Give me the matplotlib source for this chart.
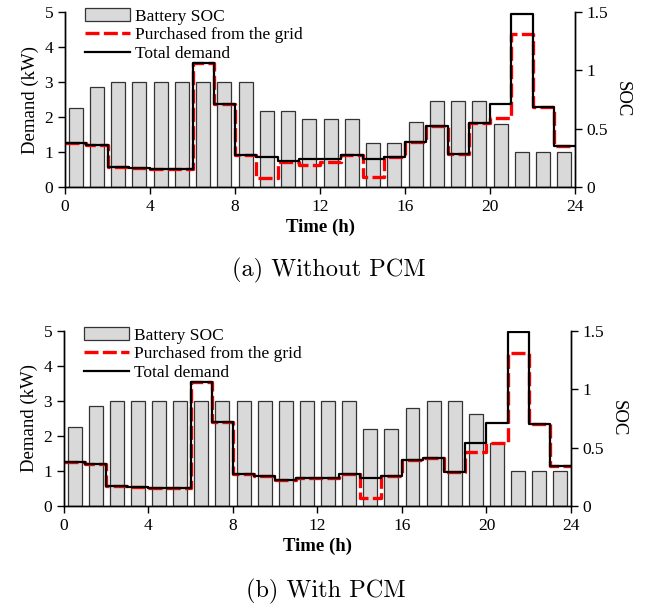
import matplotlib

matplotlib.use("Agg")
import matplotlib.pyplot as plt
import numpy as np

hours = list(range(24))
x_ticks = [0, 4, 8, 12, 16, 20, 24]
soc_ticks = [0, 0.5, 1, 1.5]
soc_tick_labels = ["0", "0.5", "1", "1.5"]

# (a) without PCM
soc_a = [0.68, 0.86, 0.9, 0.9, 0.9, 0.9, 0.9, 0.9, 0.9, 0.65, 0.65, 0.58,
         0.58, 0.58, 0.38, 0.38, 0.56, 0.74, 0.74, 0.74, 0.54, 0.30, 0.30, 0.30]
demand_a = [1.25, 1.21, 0.56, 0.54, 0.52, 0.52, 3.54, 2.38, 0.91, 0.87, 0.73, 0.80,
            0.79, 0.91, 0.79, 0.86, 1.30, 1.74, 0.94, 1.83, 2.38, 4.95, 2.30, 1.16]
grid_a = [1.25, 1.21, 0.56, 0.54, 0.52, 0.52, 3.54, 2.38, 0.91, 0.25, 0.71, 0.63,
          0.72, 0.91, 0.29, 0.86, 1.30, 1.74, 0.94, 1.83, 1.96, 4.38, 2.30, 1.16]

# (b) with PCM
soc_b = [0.68, 0.86, 0.9, 0.9, 0.9, 0.9, 0.9, 0.9, 0.9, 0.9, 0.9, 0.9,
         0.9, 0.9, 0.66, 0.66, 0.84, 0.9, 0.9, 0.79, 0.54, 0.30, 0.30, 0.30]
demand_b = [1.25, 1.21, 0.57, 0.54, 0.52, 0.52, 3.55, 2.39, 0.90, 0.86, 0.74, 0.81,
            0.79, 0.91, 0.79, 0.85, 1.30, 1.36, 0.97, 1.81, 2.38, 4.96, 2.33, 1.15]
grid_b = [1.25, 1.21, 0.57, 0.54, 0.52, 0.52, 3.55, 2.39, 0.90, 0.86, 0.74, 0.81,
          0.79, 0.91, 0.23, 0.85, 1.30, 1.36, 0.97, 1.55, 1.81, 4.36, 2.33, 1.15]

SERIF = "Liberation Serif"
RED = "#ff0000"


def draw_panel(fig, rect, soc, demand, grid, caption, caption_xy):
    ax = fig.add_axes(rect)
    ax_soc = ax.twinx()

    # bars live on the SOC axis, lines on the demand axis drawn on top
    ax.set_zorder(ax_soc.get_zorder() + 1)
    ax.patch.set_visible(False)

    bar_x = np.array(hours) + 0.5
    ax_soc.bar(bar_x, soc, width=0.66, color="#d9d9d9", edgecolor="#333333",
               linewidth=0.9, label="Battery SOC")

    step_x = list(range(25))
    ax.step(step_x, grid + [grid[-1]], where="post", color=RED, linewidth=2.4,
            dashes=(4.2, 1.3), label="Purchased from the grid")
    ax.step(step_x, demand + [demand[-1]], where="post", color="black",
            linewidth=1.6, label="Total demand")

    ax.set_xlim(0, 24)
    ax.set_ylim(0, 5)
    ax_soc.set_ylim(0, 1.5)
    ax.set_xticks(x_ticks)
    ax.set_yticks(range(6))
    ax_soc.set_yticks(soc_ticks)
    ax_soc.set_yticklabels(soc_tick_labels)

    for a in (ax, ax_soc):
        a.spines["top"].set_visible(False)
        for side in ("left", "right", "bottom"):
            a.spines[side].set_linewidth(1.0)
        a.tick_params(direction="out", length=5, width=1.0, labelsize=12.5)
        for lbl in a.get_xticklabels() + a.get_yticklabels():
            lbl.set_fontfamily(SERIF)

    ax.set_xlabel("Time (h)", fontfamily=SERIF, fontsize=13.5, fontweight="bold", labelpad=3)
    ax.set_ylabel("Demand (kW)", fontfamily=SERIF, fontsize=13.5, labelpad=4)
    ax_soc.set_ylabel("SOC", fontfamily=SERIF, fontsize=13.5, rotation=270, labelpad=16)

    handles, labels = ax_soc.get_legend_handles_labels()
    h2, l2 = ax.get_legend_handles_labels()
    ax.legend(handles + h2, labels + l2, loc="upper left", bbox_to_anchor=(0.025, 1.06),
              frameon=False, prop={"family": SERIF, "size": 12.5}, handlelength=2.6,
              handletextpad=0.3, labelspacing=0.15, borderaxespad=0)

    fig.text(caption_xy[0], caption_xy[1], caption, fontfamily="cmr10",
             fontsize=17.5, ha="center", va="center")
    return ax


fig = plt.figure(figsize=(6.45, 6.08), dpi=100)
draw_panel(fig, [0.1008, 0.6924, 0.7907, 0.2878], soc_a, demand_a, grid_a,
           "(a) Without PCM", (329 / 645, 1 - 270 / 608))
draw_panel(fig, [0.0992, 0.1678, 0.7860, 0.2878], soc_b, demand_b, grid_b,
           "(b) With PCM", (326 / 645, 1 - 591 / 608))

fig.savefig("out.png", dpi=100)
